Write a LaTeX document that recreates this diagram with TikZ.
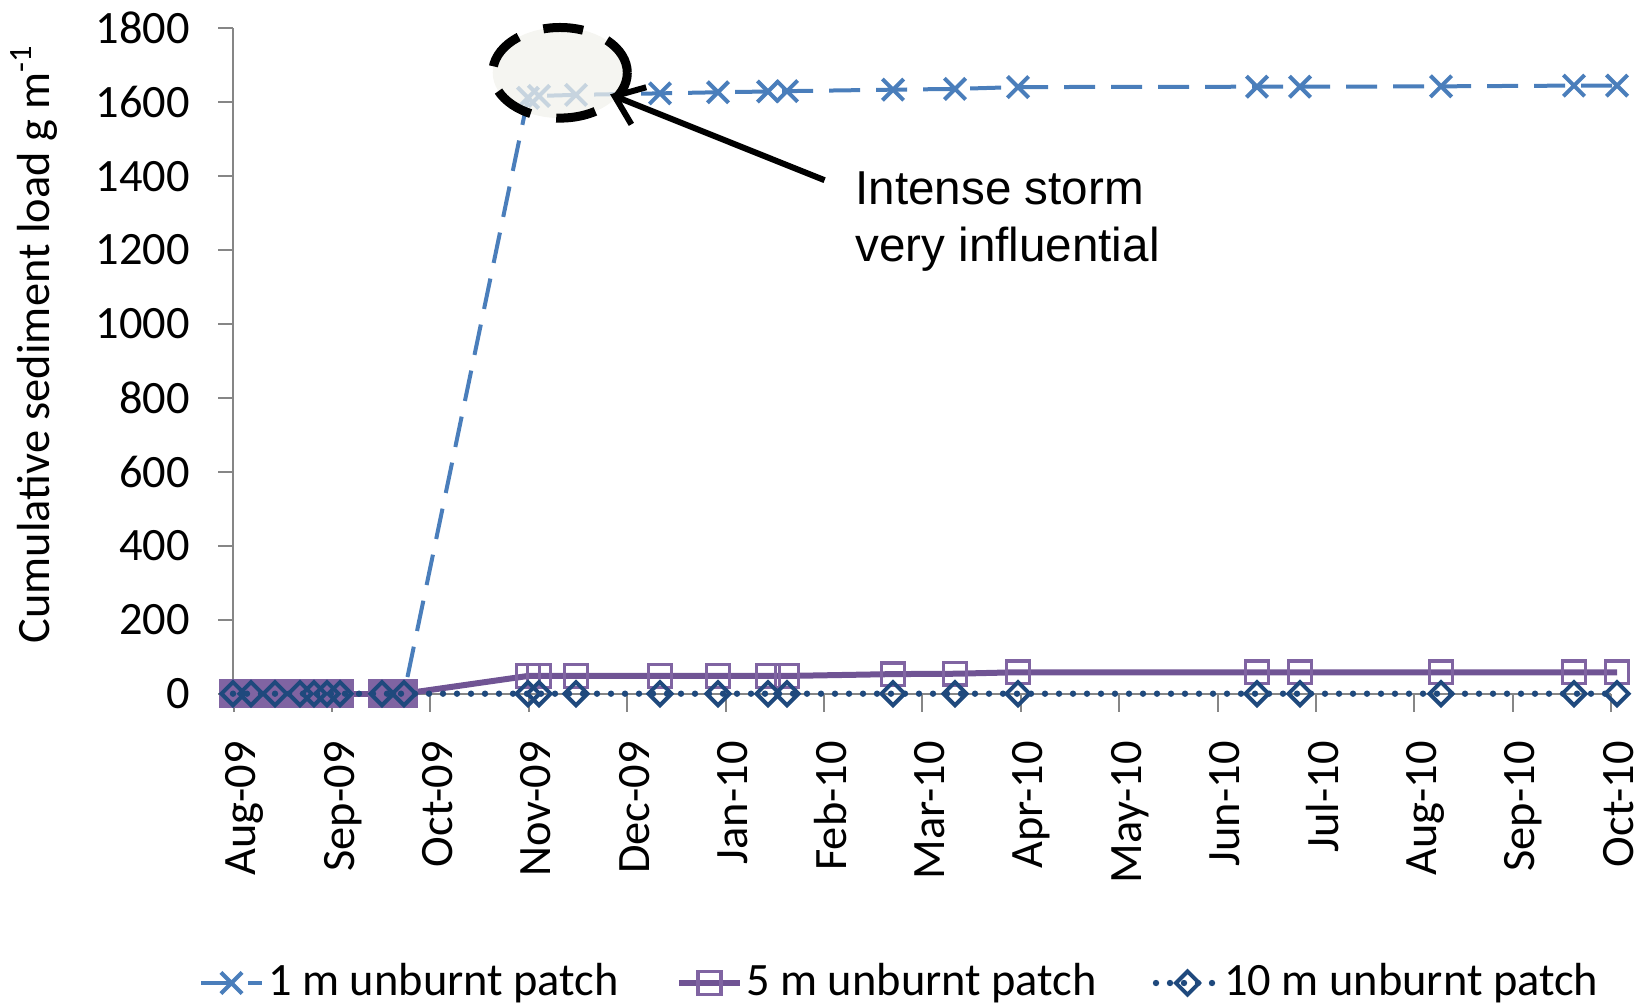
\documentclass[tikz,border=0pt]{standalone}
\usepackage{fontspec}
\setmainfont{Carlito}
\newfontfamily\notefont{Liberation Sans}
\usetikzlibrary{arrows.meta,shapes.geometric,plotmarks}
\definecolor{blueS}{RGB}{74,126,187}
\definecolor{purpleS}{RGB}{112,84,148}
\definecolor{purpleM}{RGB}{128,100,162}
\definecolor{navyS}{RGB}{31,73,125}
\definecolor{axgray}{RGB}{134,134,134}
\definecolor{stormfill}{RGB}{242,242,236}
\tikzstyle{lab} = [font=\fontsize{23.2}{27}\selectfont, inner sep=0pt]
\tikzstyle{ax} = [draw=axgray, line width=1pt]
\tikzstyle{onem} = [draw=blueS, line width=2pt, dash pattern=on 15.5pt off 8pt,
    mark=x, mark size=7.5pt, mark options={solid, line width=2pt}]
\tikzstyle{fivem} = [draw=purpleS, line width=3pt,
    mark=square, mark size=5.7pt, mark options={draw=purpleM, line width=1.8pt}]
\tikzstyle{tenm} = [draw=navyS, line width=3.2pt, line cap=round, dash pattern=on 0pt off 7pt,
    mark=square, mark size=4.1pt, mark options={solid, rotate=45, line width=2pt}]
\tikzstyle{storm} = [ellipse, draw=black, line width=4.5pt, dash pattern=on 20pt off 13pt,
    fill=stormfill, fill opacity=0.75, minimum width=67.3pt, minimum height=45.3pt, inner sep=0pt]
\tikzstyle{note} = [font=\notefont\fontsize{23.8}{28.8}\selectfont, align=left, inner sep=0pt]

\begin{document}
\begin{tikzpicture}[x=0.5pt,y=0.5pt]
  \useasboundingbox (0,0) rectangle (1643,1007);

  % axes
  \draw[ax] (233,313.3) -- (233,978.7);
  \draw[ax] (233,313.3) -- (1611,313.3);
  \foreach \i in {0,...,9} {
    \pgfmathsetmacro\yy{313.3+\i*73.934}
    \pgfmathtruncatemacro\val{\i*200}
    \draw[ax] (218,\yy) -- (233,\yy);
    \node[lab, anchor=east] (ylab\i) at (190,\yy) {\val};
  }
  \foreach \m [count=\i from 0] in {Aug-09,Sep-09,Oct-09,Nov-09,Dec-09,Jan-10,Feb-10,
      Mar-10,Apr-10,May-10,Jun-10,Jul-10,Aug-10,Sep-10,Oct-10} {
    \pgfmathsetmacro\xx{233.6+\i*98.4}
    \draw[ax] (\xx,313.3) -- (\xx,295.3);
    \node[lab, rotate=90, anchor=base east] (xlab\i) at (\xx+22,266) {\m};
  }
  \node[lab, rotate=90] (ytitle) at (34,663) {Cumulative sediment load g m\textsuperscript{-1}};

  % series
  \begin{scope}[shift={(0pt,156.65pt)}, y=0.184835pt]
    \draw[onem] plot coordinates {(233,0) (251,0) (275,0) (300,0) (314,0) (327,0) (340,0)
      (382,0) (404,0) (528,1612) (539,1617) (576,1620) (660,1624) (718,1627) (768,1629)
      (787,1630) (893,1634) (955,1636) (1018,1641) (1257,1642) (1300,1642) (1441,1643)
      (1574,1645) (1617,1645)};
    \draw[fivem] plot coordinates {(404,0) (528,48) (539,48) (576,48) (660,48) (718,48)
      (768,48) (787,48) (893,53) (955,54) (1018,58) (1257,58) (1300,58) (1441,58)
      (1574,58) (1617,58)};
    \draw[fivem, mark=square*, mark options={fill=purpleM, draw=purpleM}] plot coordinates
      {(233,0) (251,0) (275,0) (300,0) (314,0) (327,0) (340,0) (382,0) (404,0)};
    \draw[tenm] plot coordinates {(233,0) (251,0) (275,0) (300,0) (314,0) (327,0) (340,0)
      (382,0) (404,0) (528,0) (539,0) (576,0) (660,0) (718,0) (768,0) (787,0) (893,0)
      (955,0) (1018,0) (1257,0) (1300,0) (1441,0) (1574,0) (1617,0)};
  \end{scope}

  % annotation
  \node[storm] (circ) at (560,934.2) {};
  \node[note, anchor=north west] (txt) at (855,836) {Intense storm\\very influential};
  \coordinate (tail) at (824.6,826.8);
  \draw[line width=3pt, -{Straight Barb[length=13pt,width=20pt]}, shorten >=-6pt]
    (tail) -- (circ.-23);

  % legend
  \draw[onem, mark indices={2}] plot coordinates {(201,24) (231.5,24) (262,24)};
  \node[lab, anchor=base west] (leg1) at (268,12) {1 m unburnt patch};
  \draw[fivem, mark indices={2}] plot coordinates {(679,24) (709.5,24) (740,24)};
  \node[lab, anchor=base west] (leg2) at (746,12) {5 m unburnt patch};
  \draw[tenm, mark indices={2}] plot coordinates {(1156,24) (1187.5,24) (1219,24)};
  \node[lab, anchor=base west] (leg3) at (1224,12) {10 m unburnt patch};
\end{tikzpicture}
\end{document}
